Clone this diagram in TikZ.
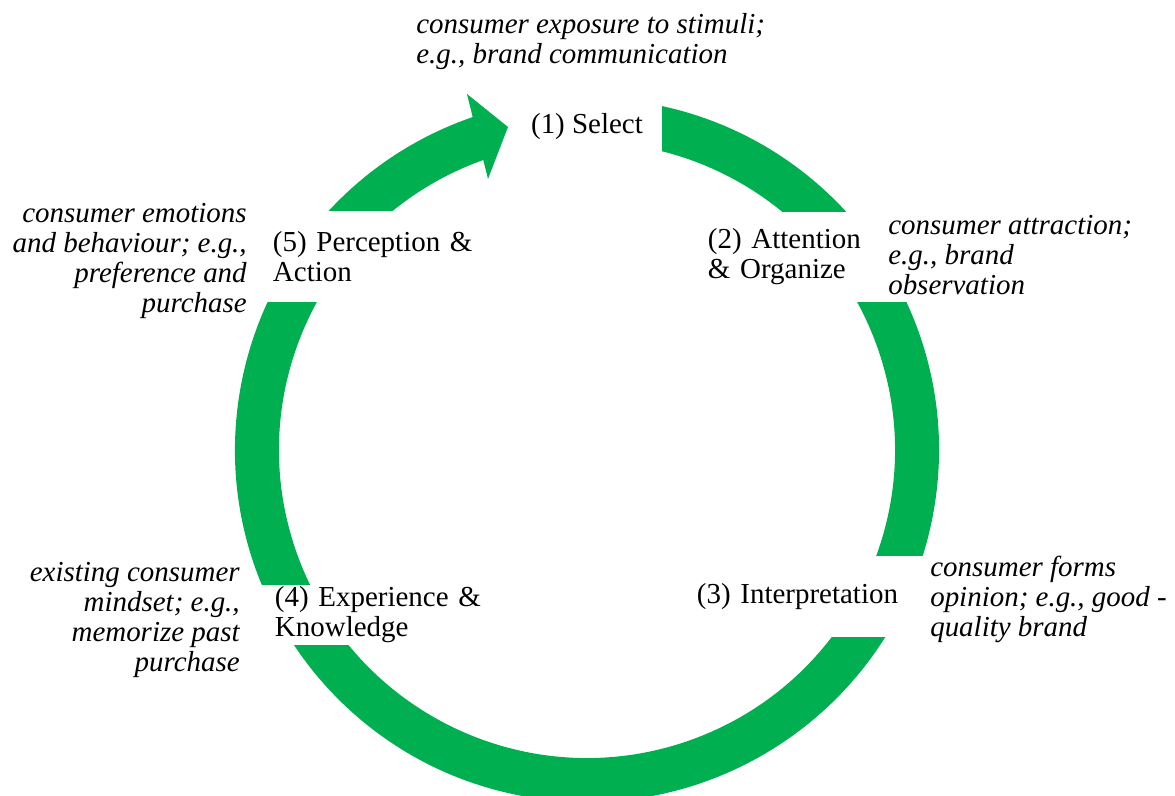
\documentclass[tikz,border=0pt]{standalone}
\usepackage{fontspec}
\setmainfont{Liberation Serif}

\definecolor{ringgreen}{RGB}{0,176,80}

\tikzset{
	stage/.style={fill=white, inner sep=0pt, align=left, font=\fontsize{20.6}{21.4}\selectfont},
	note/.style={inner sep=0pt, font=\fontsize{20.6}{21.4}\selectfont\itshape}
}

\begin{document}
\begin{tikzpicture}
	\useasboundingbox (-14.675,-8.65) rectangle (14.7,11.25);
	\coordinate (O) at (0,0);

	% green ring, clockwise, ending in the arrow head
	\fill [ringgreen] (80:8.8) arc [start angle=80, end angle=-251.05, radius=8.8]
		-- (-3.0,8.9) -- (-1.975,8.075) -- (-2.475,6.775)
		-- (-250.32:7.7) arc [start angle=-250.32, end angle=80, radius=7.7] -- cycle;

	% stages, white boxes cut the ring
	\node [stage, align=center, minimum width=3.75cm, minimum height=1.925cm] (select) at (0,8.0875) {(1) Select};
	\node [stage, text width=4.975cm, minimum width=5.375cm, minimum height=2.25cm] (attention) at (5.5125,4.825) {(2) Attention\\\& Organize};
	\node [stage, text width=5.775cm, minimum width=6.125cm, minimum height=2.025cm] (interpretation) at (5.6375,-3.6625) {(3) Interpretation};
	\node [stage, text width=5.625cm, minimum width=6.625cm, minimum height=1.5cm] (experience) at (-4.9875,-4.125) {(4) Experience \&\\Knowledge};
	\node [stage, text width=5.3cm, minimum width=6.05cm, minimum height=2.275cm] (perception) at (-5.2,4.8375) {(5) Perception \&\\Action};

	% notes, placed at the baseline of their last line
	\node [note, anchor=base west, align=left] (exposure) at (-4.275,9.65) {consumer exposure to stimuli;\\e.g., brand communication};
	\node [note, anchor=base west, align=left] (attraction) at (7.525,3.875) {consumer attraction;\\e.g., brand\\observation};
	\node [note, anchor=base west, align=left] (opinion) at (8.575,-4.675) {consumer forms\\opinion; e.g., good -\\quality brand};
	\node [note, anchor=base east, align=right] (behaviour) at (-8.5,3.425) {consumer emotions\\and behaviour; e.g.,\\preference and\\purchase};
	\node [note, anchor=base east, align=right] (mindset) at (-8.675,-5.55) {existing consumer\\mindset; e.g.,\\memorize past\\purchase};
\end{tikzpicture}
\end{document}
